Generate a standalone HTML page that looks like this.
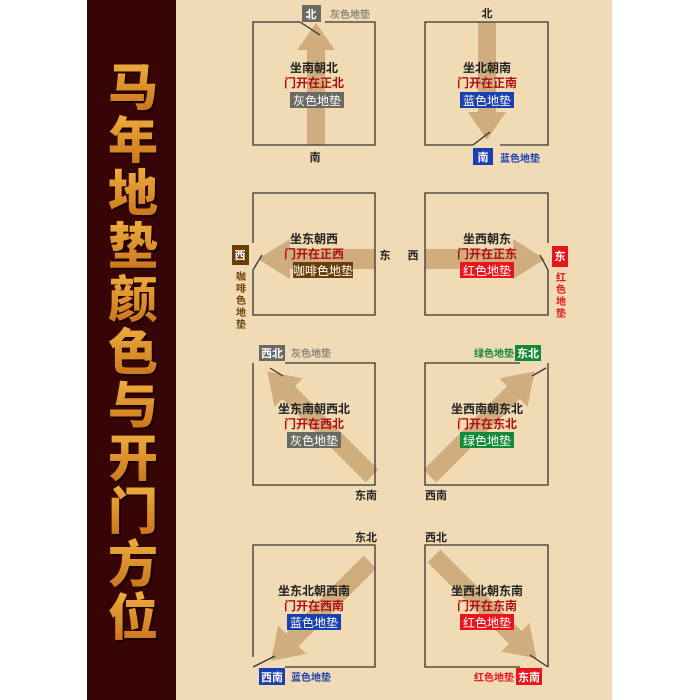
<!DOCTYPE html>
<html><head><meta charset="utf-8"><style>
html,body{margin:0;padding:0;background:#fff;}
svg{display:block}
text{font-family:"Liberation Sans","Noto Sans CJK SC",sans-serif;}
.s{font-family:"Liberation Serif","Noto Serif CJK SC",serif;font-weight:bold;}
</style></head><body>
<svg width="700" height="700" viewBox="0 0 700 700" xmlns="http://www.w3.org/2000/svg">
<defs>
<linearGradient id="tg" x1="0" y1="0" x2="0" y2="1">
<stop offset="0" stop-color="#f0ae3c"/><stop offset="1" stop-color="#c7701a"/>
</linearGradient>
</defs>
<rect x="0" y="0" width="700" height="700" fill="#fff"/>
<rect x="176" y="0" width="436" height="700" fill="#f1dbb5"/>
<rect x="87" y="0" width="89" height="700" fill="#380507"/>
<g font-size="50" fill="#1a0000" text-anchor="middle" style="font-family:'Noto Serif CJK SC',serif;font-weight:900">
<text x="135" y="107">马</text><text x="135" y="160">年</text><text x="135" y="213">地</text><text x="135" y="266">垫</text><text x="135" y="319">颜</text><text x="135" y="372">色</text><text x="135" y="425">与</text><text x="135" y="478">开</text><text x="135" y="531">门</text><text x="135" y="584">方</text><text x="135" y="637">位</text>
</g>
<g font-size="50" fill="url(#tg)" text-anchor="middle" style="font-family:'Noto Serif CJK SC',serif;font-weight:900">
<text x="133" y="105">马</text><text x="133" y="158">年</text><text x="133" y="211">地</text><text x="133" y="264">垫</text><text x="133" y="317">颜</text><text x="133" y="370">色</text><text x="133" y="423">与</text><text x="133" y="476">开</text><text x="133" y="529">门</text><text x="133" y="582">方</text><text x="133" y="635">位</text>
</g>

<g fill="#c9a574" opacity="0.85">
<g transform="translate(316,145) rotate(-90)"><polygon points="0,-9 95,-9 95,-19 122,0 95,19 95,9 0,9"/></g>
<g transform="translate(487,22) rotate(90)"><polygon points="0,-9 90,-9 90,-19 118,0 90,19 90,9 0,9"/></g>
<g transform="translate(375,259) rotate(180)"><polygon points="0,-10 85,-10 85,-20 117,0 85,20 85,10 0,10"/></g>
<g transform="translate(425,259)"><polygon points="0,-10 88,-10 88,-20 120,0 88,20 88,10 0,10"/></g>
<g transform="translate(372,476) rotate(-135)"><polygon points="0,-9 118,-9 118,-20 148,0 118,20 118,9 0,9"/></g>
<g transform="translate(430,476) rotate(-45)"><polygon points="0,-9 118,-9 118,-20 148,0 118,20 118,9 0,9"/></g>
<g transform="translate(370,562) rotate(135)"><polygon points="0,-9 110,-9 110,-20 140,0 110,20 110,9 0,9"/></g>
<g transform="translate(434,556) rotate(45)"><polygon points="0,-9 115,-9 115,-20 145,0 115,20 115,9 0,9"/></g>
</g>

<g fill="none" stroke="#333" stroke-width="1.3">
<polyline points="300,22 253,22 253,145 375,145 375,22 325,22"/><line x1="300" y1="22" x2="320" y2="35"/>
<polyline points="473,145 425,145 425,22 548,22 548,145 500,145"/><line x1="473" y1="145" x2="490" y2="132"/>
<polyline points="253,243 253,193 375,193 375,315 253,315 253,270"/><line x1="253" y1="270" x2="262" y2="255"/>
<polyline points="548,243 548,193 425,193 425,315 548,315 548,270"/><line x1="548" y1="270" x2="540" y2="255"/>
<polyline points="253,363 253,485 375,485 375,363 285,363"/><line x1="270" y1="368" x2="283" y2="376"/>
<polyline points="520,363 425,363 425,485 548,485 548,363"/><line x1="532" y1="376" x2="546" y2="368"/>
<polyline points="253,657 253,545 375,545 375,667 285,667"/><line x1="253" y1="667" x2="275" y2="656"/>
<polyline points="520,667 425,667 425,545 548,545 548,667"/><line x1="548" y1="667" x2="530" y2="655"/>
</g>

<g font-size="12" text-anchor="middle" font-weight="bold">
<text x="314" y="72" fill="#222">坐南朝北</text><text x="314" y="87" fill="#b01010">门开在正北</text>
<text x="487" y="72" fill="#222">坐北朝南</text><text x="487" y="87" fill="#b01010">门开在正南</text>
<text x="314" y="243" fill="#222">坐东朝西</text><text x="314" y="258" fill="#b01010">门开在正西</text>
<text x="487" y="243" fill="#222">坐西朝东</text><text x="487" y="258" fill="#b01010">门开在正东</text>
<text x="314" y="413" fill="#222">坐东南朝西北</text><text x="314" y="428" fill="#b01010">门开在西北</text>
<text x="487" y="413" fill="#222">坐西南朝东北</text><text x="487" y="428" fill="#b01010">门开在东北</text>
<text x="314" y="595" fill="#222">坐东北朝西南</text><text x="314" y="610" fill="#b01010">门开在西南</text>
<text x="487" y="595" fill="#222">坐西北朝东南</text><text x="487" y="610" fill="#b01010">门开在东南</text>
</g>
<g font-size="12" text-anchor="middle" fill="#fff">
<rect x="290" y="92" width="54" height="16" fill="#6b6a62"/><text x="317" y="105">灰色地垫</text>
<rect x="460" y="92" width="54" height="16" fill="#1a3fb0"/><text x="487" y="105">蓝色地垫</text>
<rect x="293" y="262" width="60" height="16" fill="#6a3e08"/><text x="323" y="275">咖啡色地垫</text>
<rect x="460" y="262" width="54" height="16" fill="#e8161c"/><text x="487" y="275">红色地垫</text>
<rect x="287" y="432" width="54" height="16" fill="#6b6a62"/><text x="314" y="445">灰色地垫</text>
<rect x="460" y="432" width="54" height="16" fill="#138a38"/><text x="487" y="445">绿色地垫</text>
<rect x="287" y="614" width="54" height="16" fill="#1a3fb0"/><text x="314" y="627">蓝色地垫</text>
<rect x="460" y="614" width="54" height="16" fill="#e8161c"/><text x="487" y="627">红色地垫</text>
</g>

<g font-size="11" font-weight="bold" fill="#222" text-anchor="middle">
<text x="315" y="161">南</text><text x="487" y="17">北</text>
<text x="385" y="259">东</text><text x="413" y="259">西</text>
<text x="366" y="499">东南</text><text x="436" y="499">西南</text>
<text x="366" y="541">东北</text><text x="436" y="541">西北</text>
</g>
<g class="s" font-size="11" text-anchor="middle" fill="#fff">
<rect x="302" y="5" width="19" height="17" fill="#6b6a62"/><text x="311" y="18">北</text>
<rect x="473" y="148" width="20" height="17" fill="#1a3fb0"/><text x="483" y="161">南</text>
<rect x="232" y="245" width="17" height="20" fill="#6a3e08"/><text x="240" y="259">西</text>
<rect x="552" y="246" width="16" height="21" fill="#e8161c"/><text x="560" y="260">东</text>
<rect x="259" y="345" width="26" height="16" fill="#6b6a62"/><text x="272" y="357">西北</text>
<rect x="515" y="345" width="26" height="16" fill="#138a38"/><text x="528" y="357">东北</text>
<rect x="259" y="668" width="26" height="17" fill="#1a3fb0"/><text x="272" y="681">西南</text>
<rect x="516" y="668" width="26" height="17" fill="#e8161c"/><text x="529" y="681">东南</text>
</g>
<g class="s" font-size="10">
<text x="330" y="18" fill="#8a877c">灰色地垫</text>
<text x="500" y="162" fill="#1a3fb0">蓝色地垫</text>
<text x="291" y="357" fill="#8a877c">灰色地垫</text>
<text x="474" y="357" fill="#138a38">绿色地垫</text>
<text x="291" y="681" fill="#1a3fb0">蓝色地垫</text>
<text x="474" y="681" fill="#e8161c">红色地垫</text>
</g>
<g class="s" font-size="10" text-anchor="middle" fill="#6a3e08">
<text x="241" y="280">咖</text><text x="241" y="292">啡</text><text x="241" y="304">色</text><text x="241" y="316">地</text><text x="241" y="328">垫</text>
</g>
<g class="s" font-size="10" text-anchor="middle" fill="#e8161c">
<text x="561" y="281">红</text><text x="561" y="293">色</text><text x="561" y="305">地</text><text x="561" y="317">垫</text>
</g>
</svg>
</body></html>
